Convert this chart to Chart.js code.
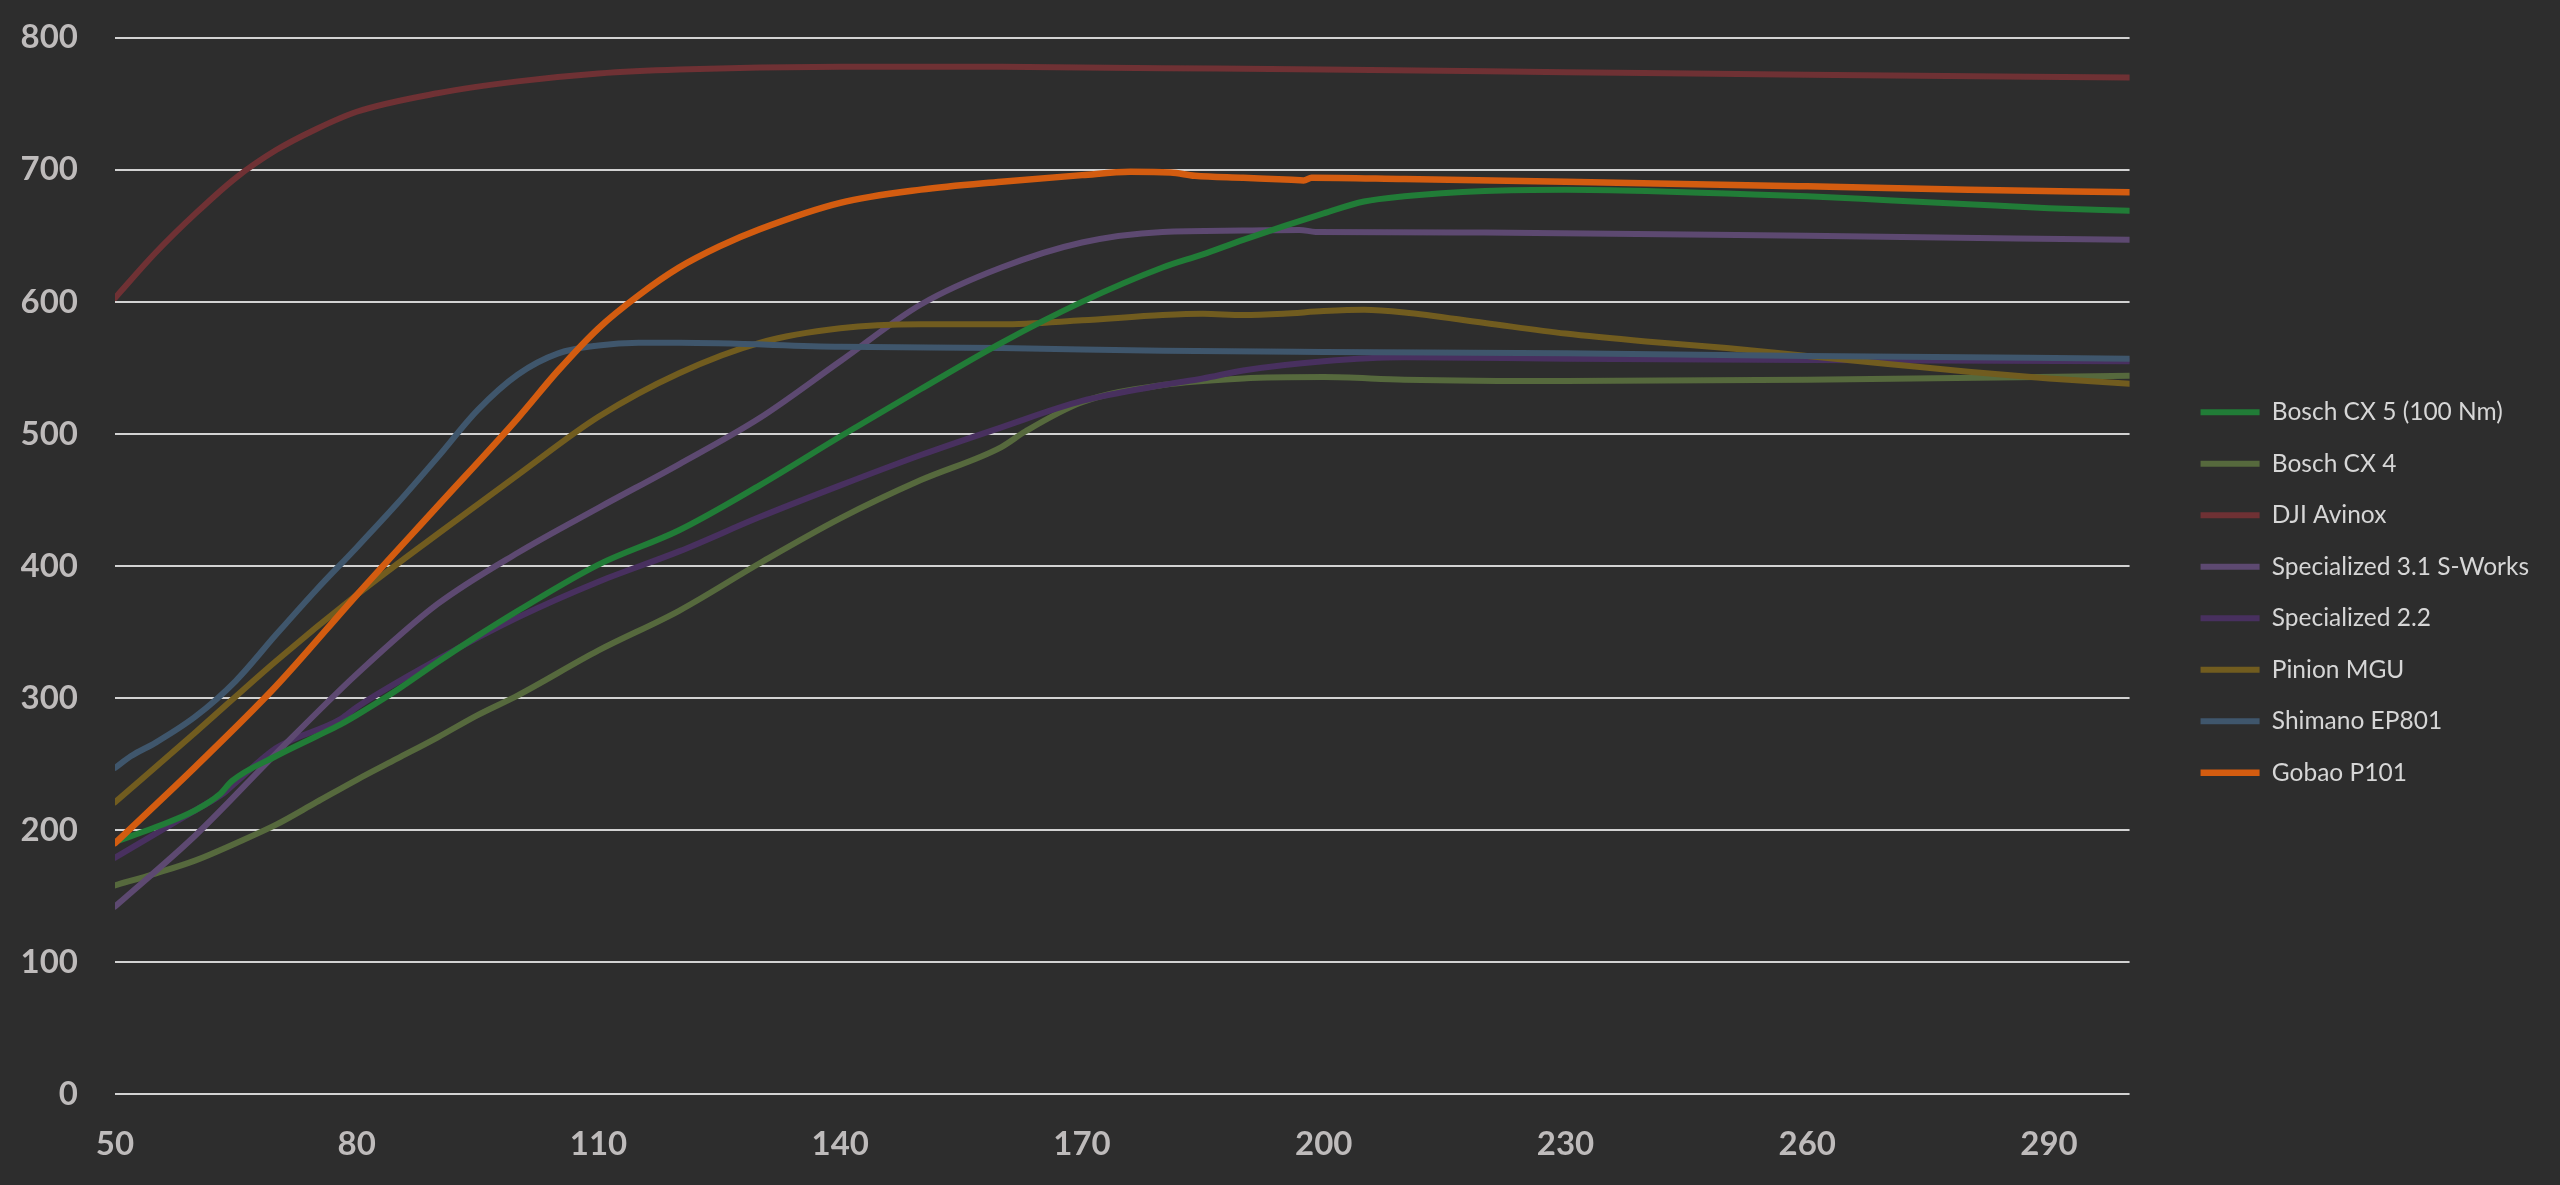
<!DOCTYPE html>
<html>
<head>
<meta charset="utf-8">
<script src="https://cdn.jsdelivr.net/npm/chart.js@4"></script>
<style>
  html, body { margin: 0; padding: 0; background: #2d2d2d; overflow: hidden; }
  canvas { display: block; }
</style>
</head>
<body>
<canvas id="chart" width="2560" height="1185"></canvas>
<script>
// ---- Data ----
const seriesNames = [
  "Bosch CX 5 (100 Nm)",
  "Bosch CX 4",
  "DJI Avinox",
  "Specialized 3.1 S-Works",
  "Specialized 2.2",
  "Pinion MGU",
  "Shimano EP801",
  "Gobao P101"
];

const boschCx5X = [50, 55, 60, 63, 64.5, 70, 75, 78, 80, 85, 90, 95, 100, 110, 120, 130, 140, 150, 160, 170, 180, 185, 190, 200, 205, 210, 220, 230, 240, 250, 260, 270, 280, 290, 300];
const boschCx5Y = [191, 202, 215, 227, 237, 256, 271, 280, 287, 306, 327, 347, 366, 401, 427, 461, 498, 534, 569, 600, 626, 636, 647, 667, 676, 680, 684, 685, 684, 682, 680, 677, 674, 671, 669];

const boschCx4X = [50, 55, 60, 65, 70, 75, 80, 85, 90, 95, 100, 110, 120, 130, 140, 150, 160, 163, 170, 180, 190, 200, 210, 230, 260, 300];
const boschCx4Y = [158, 167, 177, 190, 204, 221, 238, 254, 270, 287, 302, 336, 366, 402, 436, 465, 490, 502, 524, 537, 542, 543, 541, 540, 541, 544];

const djiX = [50, 55, 60, 65, 70, 75, 80, 90, 100, 110, 120, 140, 160, 180, 200, 230, 260, 300];
const djiY = [603, 637, 667, 694, 715, 731, 744, 758, 767, 773, 776, 778, 778, 777, 776, 774, 772, 770];

const spec31X = [50, 60, 70, 80, 90, 100, 110, 120, 130, 140, 150, 160, 170, 180, 190, 197, 199, 220, 260, 300];
const spec31Y = [142, 196, 258, 318, 371, 410, 444, 477, 512, 555, 598, 626, 645, 653, 654, 654.5, 653, 652.5, 650, 647];

const spec22X = [50, 55, 60, 63.5, 65, 70, 78, 80, 90, 100, 110, 120, 130, 140, 150, 160, 170, 180, 185, 190, 200, 210, 230, 260, 300];
const spec22Y = [179, 197, 215, 228, 236, 262, 284, 293, 329, 361, 388, 411, 437, 461, 484, 505, 525, 537, 542, 548, 555, 558, 557, 556, 555];

const pinionX = [50, 60, 70, 80, 90, 100, 110, 120, 130, 140, 150, 160, 170, 180, 185, 190, 195, 200, 205, 210, 220, 230, 240, 250, 260, 270, 280, 290, 300];
const pinionY = [221, 274, 328, 378, 424, 469, 513, 546, 569, 580, 583, 583, 586, 590, 591, 590, 591, 593, 594, 592, 584, 576, 570, 565, 559, 553, 547, 542, 538];

const shimanoX = [50, 52, 55, 60, 65, 70, 75, 80, 85, 90, 95, 100, 105, 110, 115, 120, 140, 160, 180, 200, 230, 260, 300];
const shimanoY = [247, 256, 266, 286, 313, 348, 382, 414, 447, 482, 518, 545, 561, 567, 569, 569, 566, 565, 563, 562, 561, 559, 557];

const gobaoX = [50, 60, 70, 80, 90, 100, 105, 110, 115, 120, 125, 130, 140, 150, 160, 170, 176, 181, 184, 190, 196, 197.5, 198.5, 210, 230, 260, 280, 300];
const gobaoY = [190, 248, 309, 378, 445, 512, 548, 580, 605, 626, 642, 655, 675, 685, 691, 696, 698.5, 698, 695.5, 694, 692.5, 692, 694, 693, 691, 687.5, 685, 683];

const xTickValues = [50, 80, 110, 140, 170, 200, 230, 260, 290];
const yTickValues = [0, 100, 200, 300, 400, 500, 600, 700, 800];

// ---- Styles ----
const seriesColors = ["#217c37", "#56693d", "#6f3134", "#5d4971", "#48305f", "#715c1f", "#3f566c", "#d35c10"];
const seriesWidths = [6, 6, 6, 6, 6, 6, 6, 6.5];
const seriesOrder = [1, 6, 7, 4, 5, 3, 2, 0];

const xs = [boschCx5X, boschCx4X, djiX, spec31X, spec22X, pinionX, shimanoX, gobaoX];
const ys = [boschCx5Y, boschCx4Y, djiY, spec31Y, spec22Y, pinionY, shimanoY, gobaoY];

const datasets = seriesNames.map((name, i) => ({
  label: name,
  data: xs[i].map((x, j) => ({ x: x, y: ys[i][j] })),
  borderColor: seriesColors[i],
  backgroundColor: seriesColors[i],
  borderWidth: seriesWidths[i],
  borderCapStyle: 'round',
  borderJoinStyle: 'round',
  pointRadius: 0,
  pointHoverRadius: 0,
  fill: false,
  cubicInterpolationMode: 'monotone',
  order: seriesOrder[i]
}));

const tickColor = "#bebbbb";
const gridColor = "#d2d2d2";
const LEGEND_GAP = 44;
const Y_AXIS_WIDTH = 94;
const X_AXIS_HEIGHT = 91;

new Chart(document.getElementById('chart'), {
  type: 'line',
  data: { datasets: datasets },
  options: {
    responsive: false,
    devicePixelRatio: 1,
    animation: false,
    layout: { padding: { left: 21, top: 0, bottom: 0, right: 21 } },
    scales: {
      x: {
        type: 'linear',
        min: 50,
        max: 300,
        afterBuildTicks: (scale) => { scale.ticks = xTickValues.map(v => ({ value: v })); },
        afterFit: (scale) => { scale.height = X_AXIS_HEIGHT; },
        grid: { display: false, drawTicks: false },
        border: { display: false },
        ticks: {
          color: tickColor,
          font: { family: 'Lato', weight: 'bold', size: 33 },
          padding: 31,
          maxRotation: 0,
          autoSkip: false
        }
      },
      y: {
        type: 'linear',
        min: 0,
        max: 800,
        afterBuildTicks: (scale) => { scale.ticks = yTickValues.map(v => ({ value: v })); },
        afterFit: (scale) => { scale.width = Y_AXIS_WIDTH; },
        grid: { color: gridColor, lineWidth: 2, drawTicks: false },
        border: { display: false },
        ticks: {
          color: tickColor,
          font: { family: 'Lato', weight: 'bold', size: 33, lineHeight: 0.05 },
          padding: 37
        }
      },
      gap: {
        type: 'linear',
        position: 'right',
        display: true,
        grid: { display: false, drawTicks: false },
        border: { display: false },
        ticks: { display: false },
        afterFit: (scale) => { scale.width = LEGEND_GAP; }
      }
    },
    plugins: {
      tooltip: { enabled: false },
      legend: {
        display: true,
        position: 'right',
        align: 'center',
        labels: {
          usePointStyle: true,
          pointStyle: 'line',
          pointStyleWidth: 59,
          boxHeight: 25,
          padding: 27,
          color: '#d6d6d6',
          font: { family: 'Lato', size: 24.5 },
          sort: (a, b) => a.datasetIndex - b.datasetIndex
        }
      }
    }
  }
});
</script>
</body>
</html>
